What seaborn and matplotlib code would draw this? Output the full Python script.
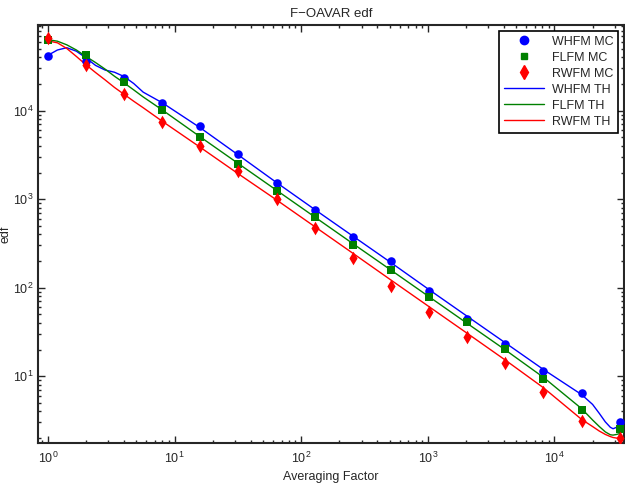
import matplotlib
matplotlib.use("Agg")
import matplotlib.pyplot as plt
import seaborn as sns
import numpy as np
import pandas as pd
from matplotlib.lines import Line2D
from matplotlib.ticker import LogLocator

# Monte Carlo points (one per octave of averaging factor)
m_factors = [1, 2, 4, 8, 16, 32, 64, 128, 256, 512, 1024, 2048, 4096, 8192, 16384, 32768]
whfm_mc = [41800, 36700, 23600, 12300, 6780, 3270, 1525, 746, 374, 198, 90.8, 44, 23.1, 11.6, 6.46, 3.02]
flfm_mc = [63400, 42600, 20900, 10300, 4990, 2520, 1250, 630, 306, 160, 77.6, 40.5, 20.3, 9.4, 4.1, 2.53]
rwfm_mc = [65900, 32500, 15400, 7520, 3950, 2060, 1010, 473, 217, 105, 53, 27.7, 14.1, 6.7, 3.14, 2.03]

# theory curves
th_factors = [1, 1.19, 1.41, 1.68, 2, 2.38, 2.83, 3.36, 4, 4.76, 5.66, 8, 16, 32, 64, 128, 256,
              512, 1024, 2048, 4096, 8192, 16384, 20000, 22600, 25200, 27600, 29000, 31000, 32768]
whfm_th = [42200, 48500, 51500, 47000, 39500, 32500, 28800, 27200, 24300, 20300, 16200, 12300,
           6400, 3150, 1540, 765, 383, 192, 95, 47.5, 23.8, 11.9, 6.2, 4.8, 3.8, 3.05, 2.65, 2.55, 2.65, 2.85]
flfm_th = [63400, 61000, 55500, 48500, 41000, 35000, 29500, 24500, 20600, 17200, 14300, 10200,
           5050, 2520, 1260, 630, 315, 158, 79, 39.5, 19.8, 9.7, 4.3, 3.2, 2.7, 2.35, 2.18, 2.16, 2.2, 2.25]
rwfm_th = [61500, 58500, 50500, 41000, 33000, 27000, 22300, 18300, 15300, 12800, 10800, 7600,
           3850, 1930, 980, 490, 245, 122, 61, 30.5, 15.2, 7.4, 3.25, 2.7, 2.4, 2.2, 2.08, 2.03, 2.0, 2.0]

sns.set_style("ticks")
plt.rcParams['font.family'] = ['Liberation Sans', 'DejaVu Sans']
plt.rcParams['mathtext.fontset'] = 'custom'
plt.rcParams['mathtext.rm'] = 'Liberation Sans'
plt.rcParams['mathtext.default'] = 'regular'
plt.rcParams['xtick.direction'] = 'in'
plt.rcParams['ytick.direction'] = 'in'

fig, ax = plt.subplots(figsize=(6.25, 4.86), dpi=100)
fig.subplots_adjust(left=0.061, right=0.9984, top=0.9486, bottom=0.0885)

mc = pd.DataFrame({'m': m_factors, 'WHFM': whfm_mc, 'FLFM': flfm_mc, 'RWFM': rwfm_mc})
th = pd.DataFrame({'m': th_factors, 'WHFM': whfm_th, 'FLFM': flfm_th, 'RWFM': rwfm_th})

colors = {'WHFM': '#0000ff', 'FLFM': '#008000', 'RWFM': '#ff0000'}
markers = {'WHFM': 'o', 'FLFM': 's', 'RWFM': 'd'}
sizes = {'WHFM': 38, 'FLFM': 26, 'RWFM': 48}
leg_sizes = {'WHFM': 6, 'FLFM': 5, 'RWFM': 7}

for name in ['WHFM', 'FLFM', 'RWFM']:
    sns.lineplot(data=th, x='m', y=name, ax=ax, color=colors[name], lw=1,
                 estimator=None, sort=False, zorder=2)
for name in ['WHFM', 'FLFM', 'RWFM']:
    sns.scatterplot(data=mc, x='m', y=name, ax=ax, color=colors[name], marker=markers[name],
                    s=sizes[name], linewidth=0, zorder=3)

ax.set_xscale('log')
ax.set_yscale('log')
ax.set_xlim(0.838, 35400)
ax.set_ylim(1.76, 93000)
ax.xaxis.set_major_locator(LogLocator(base=10))
ax.yaxis.set_major_locator(LogLocator(base=10))
ax.tick_params(which='both', top=True, right=True, labelsize=9, width=1)
ax.tick_params(axis='x', which='both', pad=5.5)
ax.tick_params(which='major', length=5)
ax.tick_params(which='minor', length=2.5)
for sp in ax.spines.values():
    sp.set_linewidth(1.5)

ax.set_title("F\u2212OAVAR edf", fontsize=9.5, pad=6)
ax.set_xlabel("Averaging Factor", fontsize=9, labelpad=4)
ax.set_ylabel("edf", fontsize=9, labelpad=1)

handles = []
for name in ['WHFM', 'FLFM', 'RWFM']:
    handles.append(Line2D([], [], ls='none', marker=markers[name], color=colors[name],
                          markersize=leg_sizes[name], label=name + ' MC'))
for name in ['WHFM', 'FLFM', 'RWFM']:
    handles.append(Line2D([], [], color=colors[name], lw=1, label=name + ' TH'))
leg = ax.legend(handles=handles, loc='upper right', fontsize=9, fancybox=False,
                edgecolor='black', framealpha=1, borderaxespad=0.45, handlelength=3.2,
                labelspacing=0.32, borderpad=0.4, handletextpad=0.6)
leg.get_frame().set_linewidth(1.2)

plt.savefig("out.png", dpi=100)
plt.close()
